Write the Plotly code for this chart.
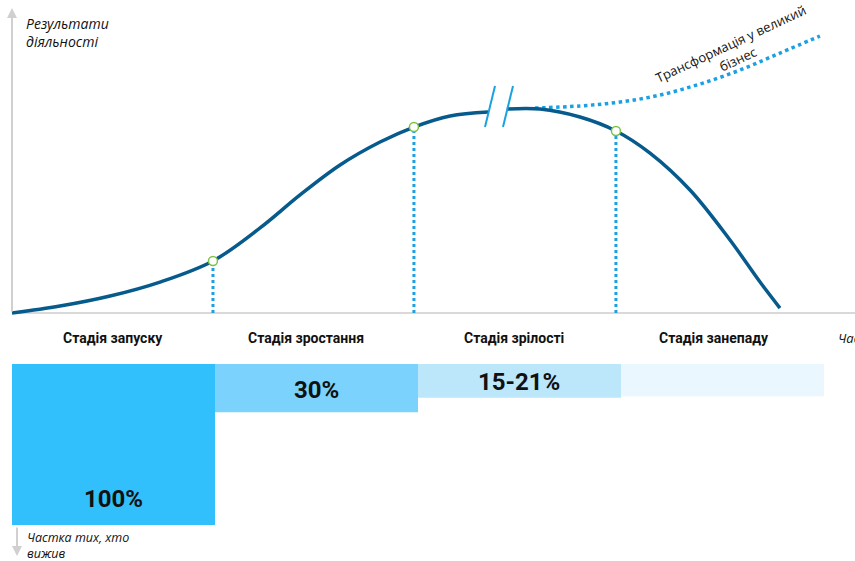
import plotly.graph_objects as go

# ---------------- data ----------------
# lifecycle curve: time (stage units, 1 = one stage) vs performance (peak = 100)
curve_left_t = [0.0, 0.236, 0.483, 0.729, 0.990, 1.222, 1.419, 1.616, 1.813, 1.980, 2.158, 2.345]
curve_left_p = [0.0, 3.4, 8.3, 15.1, 25.4, 41.5, 57.6, 72.2, 83.4, 90.7, 96.1, 98.0]
curve_right_t = [2.438, 2.601, 2.798, 2.975, 3.143, 3.340, 3.537, 3.685, 3.783]
curve_right_p = [99.5, 99.5, 95.6, 88.8, 78.0, 60.0, 35.6, 15.1, 2.4]

# transformation into big business (dotted)
transform_t = [2.576, 2.798, 2.995, 3.192, 3.389, 3.586, 3.783, 3.980]
transform_p = [100.0, 101.0, 102.9, 106.3, 111.7, 118.5, 126.8, 135.1]

# stage-boundary markers
marker_t = [0.990, 1.980, 2.975]
marker_p = [25.4, 90.7, 88.8]

# stages and survival shares
stages = ["Стадія запуску", "Стадія зростання", "Стадія зрілості", "Стадія занепаду"]
stage_centers = [0.5, 1.5, 2.5, 3.5]
survival = [100, 30, 21, 20]
survival_labels = ["100%", "30%", "15-21%", ""]
bar_colors = ["#31c0fb", "#7bd3fd", "#bce7fb", "#eaf7fe"]

# ---------------- figure ----------------
W, H = 855, 561
X0 = 12          # pixel of t=0
PX_T = 203.0     # px per stage
Y0 = 313         # pixel of performance 0
PX_P = 2.05      # px per performance unit
YB = 364         # pixel of survival 0
PX_B = 1.61      # px per survival %

xr = [-X0 / PX_T, (W - X0) / PX_T]
yr = [-(H - Y0) / PX_P, Y0 / PX_P]
y2r = [(H - YB) / PX_B, -YB / PX_B]

def tx(px):
    return (px - X0) / PX_T

def py(pix):
    return (Y0 - pix) / PX_P

def by(pix):
    return (pix - YB) / PX_B

fig = go.Figure()

# bars (survival share)
fig.add_trace(go.Bar(
    x=stage_centers, y=survival, width=1, yaxis="y2",
    marker=dict(color=bar_colors, line=dict(width=0)),
    hoverinfo="skip", showlegend=False,
))

# horizontal axis line
fig.add_trace(go.Scatter(
    x=[0, xr[1]], y=[0, 0], mode="lines",
    line=dict(color="#d9d9d9", width=2), hoverinfo="skip", showlegend=False,
))

# vertical dotted lines from markers
for t, p in zip(marker_t, marker_p):
    fig.add_trace(go.Scatter(
        x=[t, t], y=[0, p], mode="lines",
        line=dict(color="#1ba1e2", width=3, dash="dot"),
        hoverinfo="skip", showlegend=False,
    ))

# dotted transformation line
fig.add_trace(go.Scatter(
    x=transform_t, y=transform_p, mode="lines", line_shape="spline",
    line=dict(color="#1ba1e2", width=3.5, dash="dot"),
    hoverinfo="skip", showlegend=False,
))

# main curve (two segments around the break)
for tt, pp in [(curve_left_t, curve_left_p), (curve_right_t, curve_right_p)]:
    fig.add_trace(go.Scatter(
        x=tt, y=pp, mode="lines", line_shape="spline",
        line=dict(color="#075a8c", width=3.5),
        hoverinfo="skip", showlegend=False,
    ))

# break marks
for x_top, x_bot in [(495, 485), (513, 503)]:
    fig.add_trace(go.Scatter(
        x=[tx(x_bot), tx(x_top)], y=[py(127), py(86)], mode="lines",
        line=dict(color="#1ba1e2", width=2),
        hoverinfo="skip", showlegend=False,
    ))

# markers
fig.add_trace(go.Scatter(
    x=marker_t, y=marker_p, mode="markers",
    marker=dict(size=9, color="white", line=dict(color="#7cc242", width=1.5)),
    hoverinfo="skip", showlegend=False,
))

ann = []
# axis arrows
ann.append(dict(x=0, y=py(8), ax=0, ay=0, xref="x", yref="y", axref="x", ayref="y",
                showarrow=True, arrowhead=2, arrowsize=1, arrowwidth=2, arrowcolor="#d0d0d0", text=""))
ann.append(dict(x=tx(17), y=by(556), ax=tx(17), ay=by(526), xref="x", yref="y2", axref="x", ayref="y2",
                showarrow=True, arrowhead=2, arrowsize=1, arrowwidth=2, arrowcolor="#d0d0d0", text=""))

italic13 = dict(family="Open Sans, Liberation Sans, sans-serif", size=13, color="#111111")
italic14 = dict(family="Open Sans, Liberation Sans, sans-serif", size=14, color="#111111")

# y-axis title (two lines)
for txt, pix in [("Результати", 23), ("діяльності", 41)]:
    ann.append(dict(x=tx(24), y=py(pix), xref="x", yref="y", text="<i>" + txt + "</i>",
                    showarrow=False, xanchor="left", yanchor="middle", font=italic14))
# survival axis title
ann.append(dict(x=tx(25), y=by(545.5), xref="x", yref="y2", text="<i>Частка тих, хто<br>вижив</i>",
                showarrow=False, xanchor="left", yanchor="middle", align="left",
                font=dict(family="Open Sans, Liberation Sans, sans-serif", size=12.5, color="#111111")))
ann.append(dict(x=tx(836), y=by(338), xref="x", yref="y2", text="<i>Час</i>",
                showarrow=False, xanchor="left", yanchor="middle", font=italic13))

# rotated transformation label
ann.append(dict(x=tx(734), y=py(51), xref="x", yref="y", text="Трансформація у великий<br>бізнес",
                showarrow=False, textangle=-25, align="center",
                font=dict(family="Open Sans, Liberation Sans, sans-serif", size=13, color="#111111")))

# stage labels
stage_label_x = [113, 306, 514, 714]
for name, px in zip(stages, stage_label_x):
    ann.append(dict(x=tx(px), y=by(338), xref="x", yref="y2", text="<b>" + name + "</b>",
                    showarrow=False,
                    font=dict(family="Roboto, sans-serif", size=14, color="#111111")))

# survival labels
label_pos = [(113, 499), (316, 390), (519, 382)]
for lab, (px, pix) in zip(survival_labels, label_pos):
    ann.append(dict(x=tx(px), y=by(pix), xref="x", yref="y2", text="<b>" + lab + "</b>",
                    showarrow=False,
                    font=dict(family="Roboto, sans-serif", size=24, color="#111111")))

fig.update_layout(
    width=W, height=H,
    margin=dict(l=0, r=0, t=0, b=0),
    paper_bgcolor="white", plot_bgcolor="white",
    xaxis=dict(range=xr, visible=False, fixedrange=True),
    yaxis=dict(range=yr, visible=False, domain=[0, 1], fixedrange=True),
    yaxis2=dict(range=y2r, visible=False, overlaying="y", fixedrange=True),
    annotations=ann,
    showlegend=False,
)

fig.write_html("out.html", config={"displayModeBar": False},
               post_script="document.body.style.margin='0';document.body.style.overflow='hidden';")
